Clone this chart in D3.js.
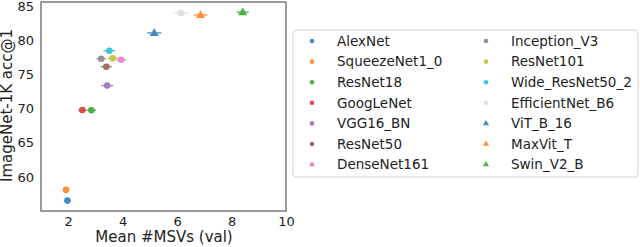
<!DOCTYPE html>
<html lang="en">
<head>
    <meta charset="UTF-8">
    <script src="https://cdn.jsdelivr.net/npm/d3@7"></script>
    <title>MSVs vs accuracy</title>
    <style>
        body { margin: 0; background: #fff; }
        text { font-family: "DejaVu Sans", sans-serif; fill: #222; }
    </style>
</head>
<body>
    <script>
        // data
        const models = ["AlexNet","SqueezeNet1_0","ResNet18","GoogLeNet","VGG16_BN","ResNet50","DenseNet161",
                        "Inception_V3","ResNet101","Wide_ResNet50_2","EfficientNet_B6","ViT_B_16","MaxVit_T","Swin_V2_B"]
        const msvs = [1.97, 1.92, 2.85, 2.52, 3.43, 3.40, 3.94, 3.21, 3.63, 3.51, 6.14, 5.16, 6.86, 8.41]
        const msvErr = [0.12, 0.1, 0.17, 0.15, 0.22, 0.2, 0.18, 0.17, 0.18, 0.21, 0.25, 0.26, 0.25, 0.22]
        const acc = [56.52, 58.09, 69.76, 69.78, 73.36, 76.13, 77.14, 77.29, 77.37, 78.47, 84.0, 81.07, 83.7, 84.11]
        const shapes = ["o","o","o","o","o","o","o","o","o","o","o","^","^","^"]
        const colors = ["#1f77b4","#ff7f0e","#2ca02c","#d62728","#9467bd","#8c564b","#e377c2",
                        "#7f7f7f","#bcbd22","#17becf","#d9d9d9","#1f77b4","#ff7f0e","#2ca02c"]
        const xTicks = [2, 4, 6, 8, 10]
        const yTicks = [60, 65, 70, 75, 80, 85]

        const width = 640, height = 247

        const svg = d3.select("body").append("svg")
            .attr("width", width)
            .attr("height", height)

        const x = d3.scaleLinear().domain([1, 10]).range([41, 286])
        const y = d3.scaleLinear().domain([55.0, 85.6]).range([211, 2])

        svg.append("g")
            .attr("transform", "translate(0,211)")
            .call(d3.axisBottom(x).tickValues(xTicks).tickSize(0).tickPadding(6))
        svg.append("g")
            .attr("transform", "translate(41,0)")
            .call(d3.axisLeft(y).tickValues(yTicks).tickSize(0).tickPadding(7))
        svg.selectAll(".domain").remove()
        svg.selectAll(".tick text")
            .attr("font-size", "13px")
            .attr("font-family", "DejaVu Sans, sans-serif")
            .attr("fill", "#222")

        // frame
        svg.append("rect")
            .attr("x", 41).attr("y", 2)
            .attr("width", 245).attr("height", 209)
            .attr("fill", "none")
            .attr("stroke", "#7a7a7a")
            .attr("stroke-width", 1.5)

        svg.append("text")
            .attr("x", 164).attr("y", 242)
            .attr("text-anchor", "middle")
            .attr("font-size", "15px")
            .text("Mean #MSVs (val)")
        svg.append("text")
            .attr("transform", "translate(12,105.5) rotate(-90)")
            .attr("text-anchor", "middle")
            .attr("font-size", "15px")
            .text("ImageNet-1K acc@1")

        const data = models.map((name, i) => ({name, x: msvs[i], e: msvErr[i], y: acc[i], s: shapes[i], c: colors[i]}))
        const tri = d3.symbol().type(d3.symbolTriangle)

        const pts = svg.append("g").selectAll("g")
            .data(data)
            .join("g")
            .attr("opacity", 0.85)
        pts.append("line")
            .attr("x1", d => x(d.x - d.e))
            .attr("x2", d => x(d.x + d.e))
            .attr("y1", d => y(d.y))
            .attr("y2", d => y(d.y))
            .attr("stroke", d => d.c)
            .attr("stroke-width", 1.3)
        pts.filter(d => d.s == "o").append("circle")
            .attr("cx", d => x(d.x))
            .attr("cy", d => y(d.y))
            .attr("r", 3.3)
            .attr("fill", d => d.c)
        pts.filter(d => d.s == "^").append("path")
            .attr("d", tri.size(36))
            .attr("transform", d => `translate(${x(d.x)},${y(d.y) + 0.5})`)
            .attr("fill", d => d.c)

        // legend
        const leg = svg.append("g")
        leg.append("rect")
            .attr("x", 293).attr("y", 30)
            .attr("width", 345).attr("height", 147)
            .attr("rx", 3)
            .attr("fill", "#fff")
            .attr("stroke", "#d5d5d5")
        const item = leg.selectAll("g")
            .data(data)
            .join("g")
            .attr("transform", (d, i) => `translate(${i < 7 ? 312 : 486},${41 + (i % 7) * 20.6})`)
        item.filter(d => d.s == "o").append("circle")
            .attr("r", 2.3)
            .attr("fill", d => d.c)
            .attr("opacity", 0.85)
        item.filter(d => d.s == "^").append("path")
            .attr("d", d3.symbol().type(d3.symbolTriangle).size(16))
            .attr("fill", d => d.c)
            .attr("opacity", 0.85)
        item.append("text")
            .attr("x", 25)
            .attr("dy", "0.35em")
            .attr("font-size", "13.5px")
            .text(d => d.name)
    </script>
</body>
</html>
